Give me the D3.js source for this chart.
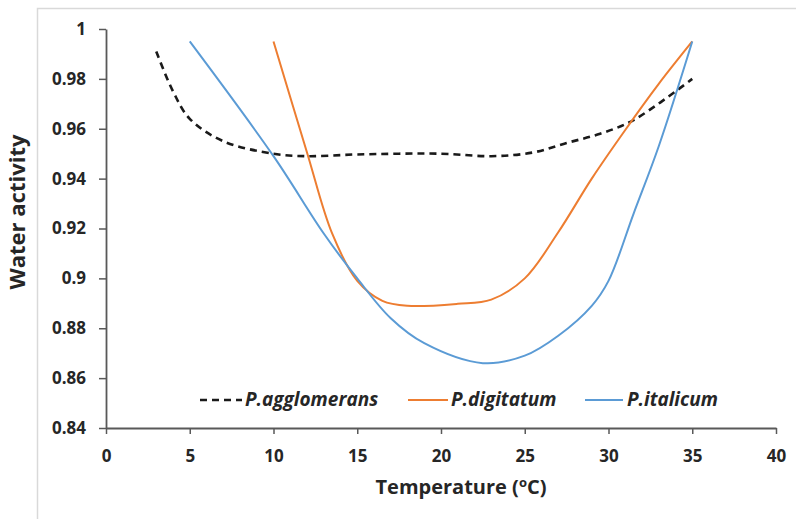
<!DOCTYPE html>
<html>
<head>
<meta charset="utf-8">
<script src="https://cdn.jsdelivr.net/npm/d3@7"></script>
<style>
    body { margin:0; background:#fff; }
    text { font-family:"Open Sans", "DejaVu Sans", sans-serif; font-weight:bold; fill:#262626; }
</style>
</head>
<body>
<div id="graphWrapper"></div>
<script>
//data
const AGGLO_X = [3, 4, 5, 7, 10, 12, 15, 20, 23, 25.5, 27.5, 29.5, 31.5, 35];
const AGGLO_Y = [0.991, 0.975, 0.964, 0.955, 0.950, 0.949, 0.9497, 0.950, 0.949, 0.9505, 0.9543, 0.958, 0.9635, 0.980];

const DIGI_X = [10, 12, 13.5, 15, 16.5, 18, 21, 23, 25, 27, 29, 31, 33, 35];
const DIGI_Y = [0.995, 0.9505, 0.918, 0.899, 0.891, 0.889, 0.8898, 0.8915, 0.900, 0.9185, 0.940, 0.9595, 0.978, 0.995];

const ITAL_X = [5, 10, 13, 15, 17, 19, 22.5, 25, 27, 29, 30, 31.5, 33, 35];
const ITAL_Y = [0.995, 0.949, 0.918, 0.900, 0.884, 0.874, 0.866, 0.869, 0.877, 0.889, 0.899, 0.926, 0.953, 0.995];

const SERIES_NAMES = ['P.agglomerans', 'P.digitatum', 'P.italicum'];
const X_TICKS = [0, 5, 10, 15, 20, 25, 30, 35, 40];
const Y_TICKS = [0.84, 0.86, 0.88, 0.9, 0.92, 0.94, 0.96, 0.98, 1];
const Y_TICK_LABELS = ['0.84', '0.86', '0.88', '0.9', '0.92', '0.94', '0.96', '0.98', '1'];

//constants
const CONSTANTS = {
    WIDTH:796,
    HEIGHT:519,
    LEFT:106,       //x pixel of the y axis
    RIGHT:776,      //x pixel of the last x tick
    TOP:29,         //y pixel of the top y tick
    BOTTOM:428,     //y pixel of the x axis
    AXIS_COLOR:'#595959',
    AGGLO:'#1a1a1a',
    DIGI:'#ed7d31',
    ITAL:'#5b9bd5'
};

function main(){
    let svg = d3.select('#graphWrapper')
        .append('svg')
        .attr('width',CONSTANTS.WIDTH)
        .attr('height',CONSTANTS.HEIGHT);

    //light chart frame
    svg.append('rect')
        .attr('x',37.5)
        .attr('y',8.5)
        .attr('width',800)
        .attr('height',600)
        .style('fill','none')
        .style('stroke','#d9d9d9')
        .style('stroke-width',1.5);

    let scales = buildScales();
    buildAxis(svg,scales.x,scales.y);
    buildLines(svg,scales.x,scales.y);
    buildLegend(svg);
}

function buildScales(){
    let x = d3.scaleLinear().domain([0,40]).range([CONSTANTS.LEFT,CONSTANTS.RIGHT]);
    let y = d3.scaleLinear().domain([0.84,1]).range([CONSTANTS.BOTTOM,CONSTANTS.TOP]);
    return {x:x,y:y};
}

function buildAxis(svg,x,y){
    let xAxis = d3.axisBottom(x).tickValues(X_TICKS).tickSize(6).tickSizeOuter(0).tickPadding(16);
    let yAxis = d3.axisLeft(y).tickValues(Y_TICKS).tickSize(7).tickSizeOuter(0).tickPadding(13)
        .tickFormat((d,i)=>Y_TICK_LABELS[i]);

    let gx = svg.append('g')
        .attr('id','x-axis')
        .attr('transform','translate(0,' + CONSTANTS.BOTTOM + ')')
        .call(xAxis);
    let gy = svg.append('g')
        .attr('id','y-axis')
        .attr('transform','translate(' + CONSTANTS.LEFT + ',0)')
        .call(yAxis);

    [gx,gy].forEach(g=>{
        g.select('.domain').style('stroke',CONSTANTS.AXIS_COLOR).style('stroke-width',1.8);
        g.selectAll('.tick line').style('stroke',CONSTANTS.AXIS_COLOR).style('stroke-width',1.5);
        g.selectAll('.tick text')
            .style('font-family','"Open Sans", sans-serif')
            .style('font-weight','bold')
            .style('font-size','17px')
            .style('fill','#262626');
    });

    //axis titles
    let xt = svg.append('text')
        .attr('x',461)
        .attr('y',494)
        .attr('text-anchor','middle')
        .style('font-size','20px');
    xt.append('tspan').text('Temperature (');
    xt.append('tspan').text('o').style('font-size','13px').attr('dy',-7);
    xt.append('tspan').text('C)').attr('dy',7);

    svg.append('text')
        .text('Water activity')
        .attr('transform','translate(25,' + 212 + ') rotate(-90)')
        .attr('text-anchor','middle')
        .style('font-size','22px');
}

function buildLines(svg,x,y){
    let line = d3.line()
        .x(d=>x(d[0]))
        .y(d=>y(d[1]))
        .curve(d3.curveCatmullRom.alpha(0.5));

    let series = [
        {x:AGGLO_X, y:AGGLO_Y, color:CONSTANTS.AGGLO, dash:'7,5', width:2.6},
        {x:DIGI_X, y:DIGI_Y, color:CONSTANTS.DIGI, dash:null, width:2},
        {x:ITAL_X, y:ITAL_Y, color:CONSTANTS.ITAL, dash:null, width:2}
    ];

    series.forEach(s=>{
        svg.append('path')
            .datum(s.x.map((v,i)=>[v,s.y[i]]))
            .attr('d',line)
            .style('fill','none')
            .style('stroke',s.color)
            .style('stroke-width',s.width)
            .style('stroke-dasharray',s.dash);
    });
}

function buildLegend(svg){
    let items = [
        {x1:200, x2:242, tx:245, color:CONSTANTS.AGGLO, dash:'7,5', width:2.6},
        {x1:408, x2:448, tx:451, color:CONSTANTS.DIGI, dash:null, width:2},
        {x1:585, x2:623, tx:627, color:CONSTANTS.ITAL, dash:null, width:2}
    ];
    let ly = 400;

    items.forEach((it,i)=>{
        let g = svg.append('g').attr('class','legend');
        g.append('line')
            .attr('x1',it.x1).attr('x2',it.x2)
            .attr('y1',ly).attr('y2',ly)
            .style('stroke',it.color)
            .style('stroke-width',it.width)
            .style('stroke-dasharray',it.dash);
        g.append('text')
            .text(SERIES_NAMES[i])
            .attr('x',it.tx)
            .attr('y',ly + 6)
            .style('font-size','19px')
            .style('font-style','italic');
    });
}

main();
</script>
</body>
</html>
